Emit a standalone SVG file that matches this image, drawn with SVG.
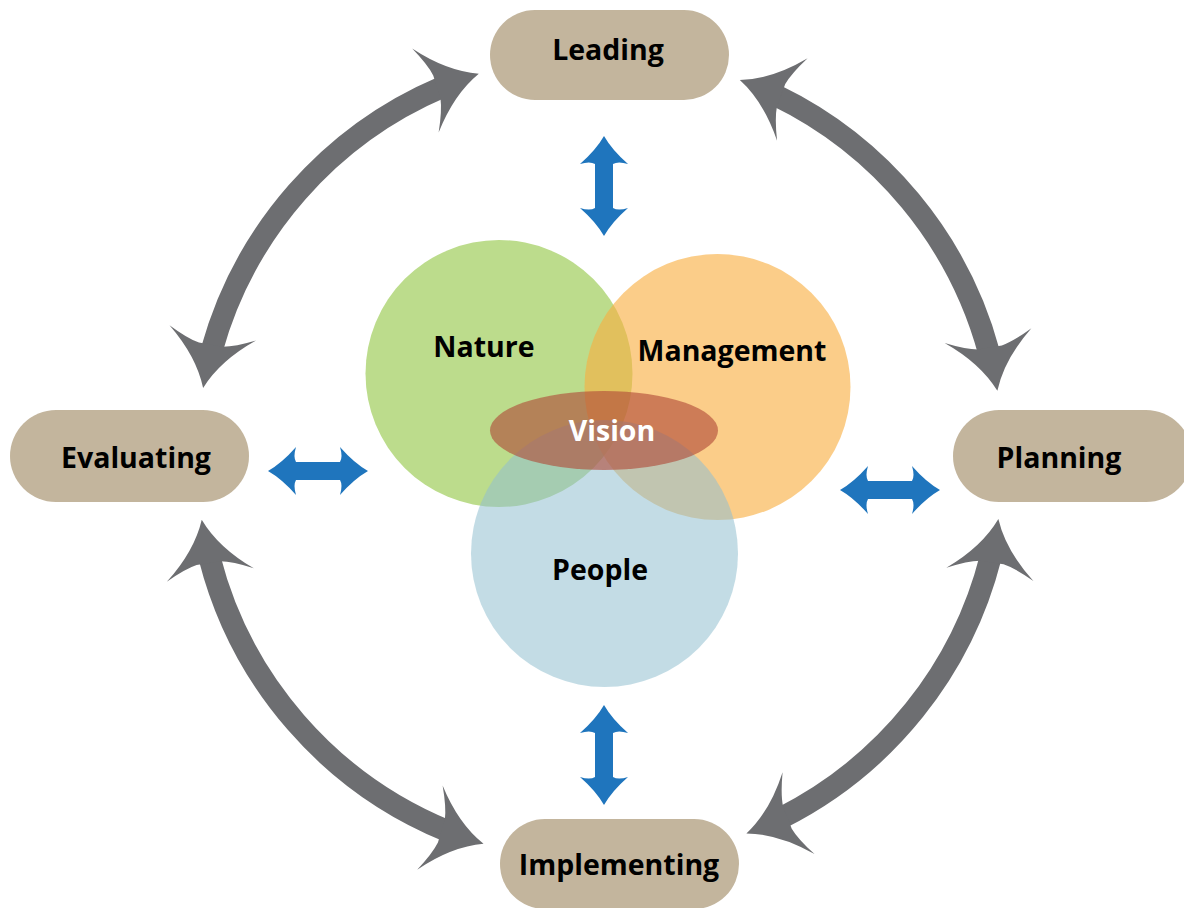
<svg xmlns="http://www.w3.org/2000/svg" xmlns:xlink="http://www.w3.org/1999/xlink" width="1184" height="908" viewBox="0 0 1184 908">
<style>
.node rect{fill:#c3b59d}
.lbl{font-family:"Open Sans","Noto Sans","Liberation Sans",sans-serif;font-weight:700;font-size:28.5px;fill:#000;text-anchor:middle}
.white{fill:#fff}
.arc{fill:none;stroke:#6d6e71;stroke-width:22}
.gh{fill:#6d6e71}
.bl{fill:#1f75bd}
</style>
<defs>
<path id="ghead" d="M0,0 Q-30,-12 -56,-44 Q-46,-24 -44,-12 L-44,12 Q-46,24 -56,44 Q-30,12 0,0Z"/>
<path id="barrow" d="M-50,0 Q-36,-8 -22,-24 Q-25,-14 -22,-9 L22,-9 Q25,-14 22,-24 Q36,-8 50,0 Q36,8 22,24 Q25,14 22,9 L-22,9 Q-25,14 -22,24 Q-36,8 -50,0Z"/>
</defs>
<rect width="1184" height="908" fill="#fff"/>
<g id="connectors">
<path class="arc" d="M211.7,350.3 A403,403 0 0 1 442.5,87"/>
<path class="arc" d="M775.4,95.2 A403,403 0 0 1 989.1,353"/>
<path class="arc" d="M990.7,556.9 A403,403 0 0 1 781.7,817.7"/>
<path class="arc" d="M447.1,830.9 A403,403 0 0 1 209.5,557.5"/>
<use class="gh" href="#ghead" transform="translate(600,458) rotate(252.5) translate(403,0) rotate(90)"/>
<use class="gh" href="#ghead" transform="translate(600,458) rotate(190) translate(403,0) rotate(-90)"/>
<use class="gh" href="#ghead" transform="translate(600,458) rotate(290.3) translate(403,0) rotate(-90)"/>
<use class="gh" href="#ghead" transform="translate(600,458) rotate(350.4) translate(403,0) rotate(90)"/>
<use class="gh" href="#ghead" transform="translate(600,458) rotate(8.7) translate(403,0) rotate(-90)"/>
<use class="gh" href="#ghead" transform="translate(600,458) rotate(68.7) translate(403,0) rotate(90)"/>
<use class="gh" href="#ghead" transform="translate(600,458) rotate(106.8) translate(403,0) rotate(-90)"/>
<use class="gh" href="#ghead" transform="translate(600,458) rotate(171.2) translate(403,0) rotate(90)"/>
<use class="bl" href="#barrow" transform="translate(604,186) rotate(90)"/>
<use class="bl" href="#barrow" transform="translate(604,755) rotate(90)"/>
<use class="bl" href="#barrow" transform="translate(318,471)"/>
<use class="bl" href="#barrow" transform="translate(890,490)"/>
</g>
<g id="nature"><circle cx="499" cy="373.5" r="133.5" fill="#bcdc8c"/></g>
<g id="management"><circle cx="717.5" cy="387" r="133" fill="#f8ae41" fill-opacity="0.62"/></g>
<g id="people"><circle cx="604.5" cy="553.5" r="133.5" fill="#91bfcf" fill-opacity="0.55"/></g>
<g id="vision"><ellipse cx="604" cy="430.5" rx="114" ry="39.5" fill="#b04a38" fill-opacity="0.62"/></g>
<text class="lbl" x="484" y="357">Nature</text>
<text class="lbl" x="732" y="361">Management</text>
<text class="lbl" x="600" y="580">People</text>
<text class="lbl white" x="612" y="441">Vision</text>
<g id="leading" class="node"><rect x="490" y="10" width="239" height="90" rx="45"/><text class="lbl" x="608" y="60">Leading</text></g>
<g id="evaluating" class="node"><rect x="10" y="410" width="239" height="92" rx="46"/><text class="lbl" x="136" y="468">Evaluating</text></g>
<g id="planning" class="node"><rect x="953" y="410" width="239" height="92" rx="46"/><text class="lbl" x="1059" y="468">Planning</text></g>
<g id="implementing" class="node"><rect x="500" y="819" width="239" height="90" rx="45"/><text class="lbl" x="619" y="875">Implementing</text></g>
</svg>
